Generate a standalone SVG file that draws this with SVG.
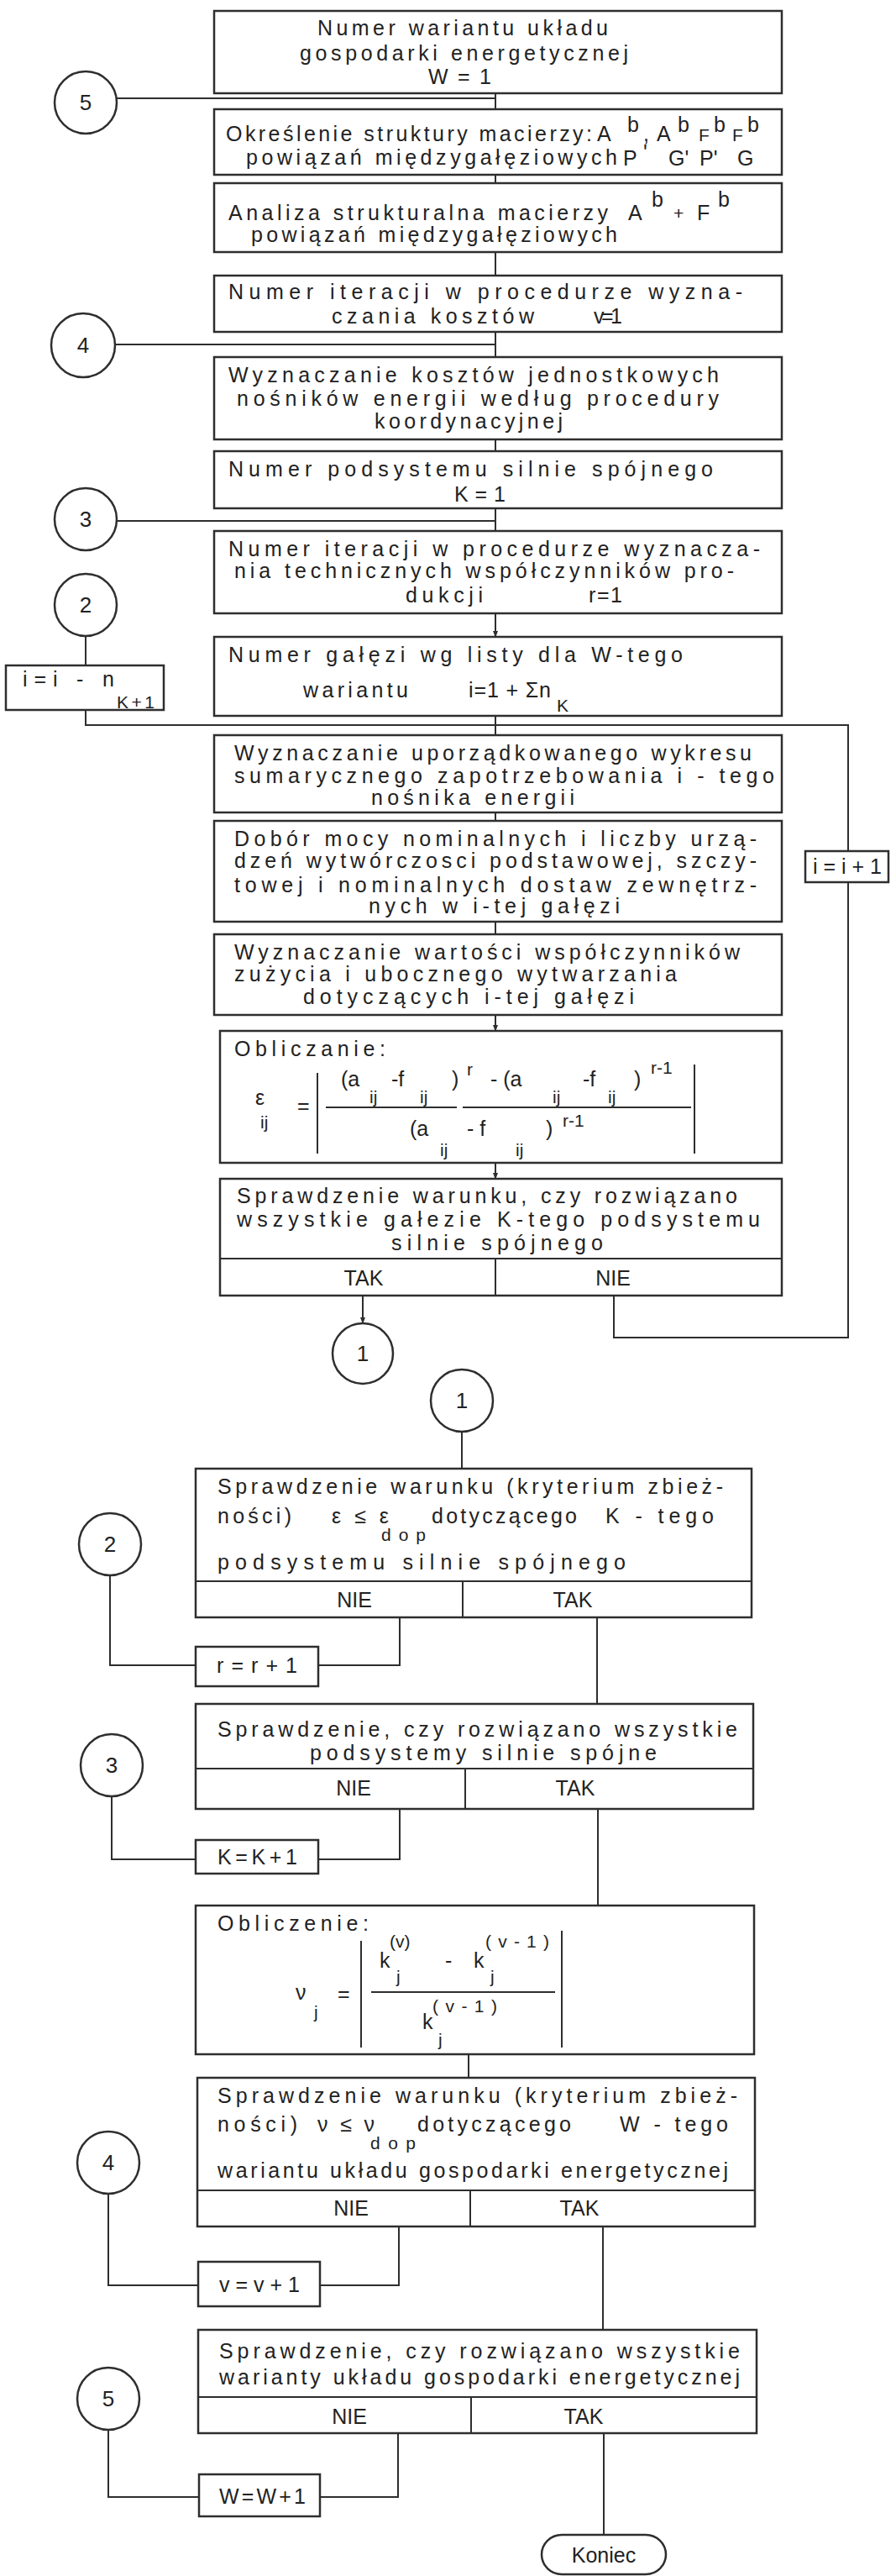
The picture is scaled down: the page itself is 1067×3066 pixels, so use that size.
<svg xmlns="http://www.w3.org/2000/svg" width="1067" height="3066" viewBox="0 0 1067 3066">
<style>
.t{font-family:"Liberation Sans",Arial,sans-serif;font-size:25px;fill:#222}
.s{font-family:"Liberation Sans",Arial,sans-serif;font-size:21px;fill:#222}
.n{font-family:"Liberation Sans",Arial,sans-serif;font-size:26px;fill:#222;text-anchor:middle}
.m{text-anchor:middle}
.b{fill:#fff;stroke:#2e2e2e;stroke-width:2.5}
.c{fill:none;stroke:#2e2e2e;stroke-width:2}
</style>
<defs>
<marker id="ah" markerWidth="8" markerHeight="8" refX="7" refY="4" orient="auto" markerUnits="userSpaceOnUse"><path d="M0,1 L8,4 L0,7 Z" fill="#2e2e2e"/></marker>
</defs>
<rect width="1067" height="3066" fill="#fff"/>

<g id="connectors" class="c">
<line x1="590" y1="111" x2="590" y2="130"/>
<line x1="139" y1="117" x2="590" y2="117"/>
<line x1="590" y1="208" x2="590" y2="218"/>
<line x1="590" y1="300" x2="590" y2="328"/>
<line x1="590" y1="395" x2="590" y2="425"/>
<line x1="137" y1="410" x2="590" y2="410"/>
<line x1="590" y1="523" x2="590" y2="537"/>
<line x1="590" y1="605" x2="590" y2="632"/>
<line x1="139" y1="620" x2="590" y2="620"/>
<line x1="590" y1="730" x2="590" y2="758" marker-end="url(#ah)"/>
<line x1="102" y1="757" x2="102" y2="792"/>
<polyline points="102,845 102,863 1010,863 1010,1013"/>
<line x1="590" y1="852" x2="590" y2="875"/>
<line x1="590" y1="967" x2="590" y2="977"/>
<line x1="590" y1="1097" x2="590" y2="1112"/>
<line x1="590" y1="1208" x2="590" y2="1227" marker-end="url(#ah)"/>
<line x1="590" y1="1384" x2="590" y2="1403" marker-end="url(#ah)"/>
<polyline points="731,1542 731,1592 1010,1592 1010,1050"/>
<line x1="432" y1="1542" x2="432" y2="1575" marker-end="url(#ah)"/>
<line x1="550" y1="1704" x2="550" y2="1748"/>
<polyline points="131,1875 131,1982 233,1982"/>
<polyline points="476,1925 476,1982 379,1982"/>
<line x1="711" y1="1925" x2="711" y2="2028"/>
<polyline points="133,2138 133,2213 233,2213"/>
<polyline points="476,2153 476,2213 379,2213"/>
<line x1="712" y1="2153" x2="712" y2="2268"/>
<line x1="558" y1="2445" x2="558" y2="2473"/>
<polyline points="129,2611 129,2720 236,2720"/>
<polyline points="475,2650 475,2720 381,2720"/>
<line x1="718" y1="2650" x2="718" y2="2773"/>
<polyline points="129,2892 129,2972 237,2972"/>
<polyline points="474,2896 474,2972 381,2972"/>
<line x1="719" y1="2896" x2="719" y2="3017"/>
</g>

<g id="n-c5a"><circle class="b" cx="102" cy="122" r="37"/><text class="n" x="102" y="131">5</text></g>
<g id="n-c4a"><circle class="b" cx="99" cy="411" r="38"/><text class="n" x="99" y="420">4</text></g>
<g id="n-c3a"><circle class="b" cx="102" cy="618" r="37"/><text class="n" x="102" y="627">3</text></g>
<g id="n-c2a"><circle class="b" cx="102" cy="720" r="37"/><text class="n" x="102" y="729">2</text></g>

<g id="n1"><rect class="b" x="255" y="13" width="676" height="98"/>
<text class="t" x="378" y="42" textLength="346">Numer wariantu układu</text>
<text class="t" x="357" y="72" textLength="391">gospodarki energetycznej</text>
<text class="t" x="510" y="100" textLength="75">W = 1</text></g>

<g id="n2"><rect class="b" x="255" y="130" width="676" height="78"/>
<text class="t" x="269" y="168" textLength="436">Określenie struktury macierzy:</text>
<text class="t" x="711" y="168">A</text><text class="t" x="747" y="157">b</text>
<text class="t" x="766" y="168">,</text>
<text class="t" x="782" y="168">A</text><text class="t" x="807" y="157">b</text>
<text class="s" x="832" y="168">F</text><text class="t" x="850" y="157">b</text>
<text class="s" x="872" y="168">F</text><text class="t" x="890" y="157">b</text>
<text class="t" x="742" y="197">P</text><text class="t" x="766" y="190">'</text>
<text class="t" x="796" y="197">G'</text><text class="t" x="833" y="197">P'</text><text class="t" x="878" y="197">G</text>
<text class="t" x="293" y="196" textLength="442">powiązań międzygałęziowych</text></g>

<g id="n3"><rect class="b" x="255" y="218" width="676" height="82"/>
<text class="t" x="272" y="262" textLength="452">Analiza strukturalna macierzy</text>
<text class="t" x="748" y="262">A</text><text class="t" x="776" y="246">b</text>
<text class="s" x="802" y="261">+</text>
<text class="t" x="830" y="262">F</text><text class="t" x="855" y="246">b</text>
<text class="t" x="299" y="288" textLength="436">powiązań międzygałęziowych</text></g>

<g id="n4"><rect class="b" x="255" y="328" width="676" height="67"/>
<text class="t" x="272" y="356" textLength="612">Numer iteracji w procedurze wyzna-</text>
<text class="t" x="395" y="385" textLength="241">czania kosztów</text>
<text class="t" x="707" y="385" textLength="34">v=1</text></g>

<g id="n5"><rect class="b" x="255" y="425" width="676" height="98"/>
<text class="t" x="272" y="455" textLength="584">Wyznaczanie kosztów jednostkowych</text>
<text class="t" x="282" y="483" textLength="574">nośników energii według procedury</text>
<text class="t" x="446" y="510" textLength="224">koordynacyjnej</text></g>

<g id="n6"><rect class="b" x="255" y="537" width="676" height="68"/>
<text class="t" x="272" y="567" textLength="577">Numer podsystemu silnie spójnego</text>
<text class="t" x="541" y="597" textLength="61">K = 1</text></g>

<g id="n7"><rect class="b" x="255" y="632" width="676" height="98"/>
<text class="t" x="272" y="662" textLength="633">Numer iteracji w procedurze wyznacza-</text>
<text class="t" x="279" y="688" textLength="595">nia technicznych współczynników pro-</text>
<text class="t" x="483" y="717" textLength="92">dukcji</text>
<text class="t" x="701" y="717" textLength="40">r=1</text></g>

<g id="n8"><rect class="b" x="255" y="758" width="676" height="94"/>
<text class="t" x="272" y="788" textLength="541">Numer gałęzi wg listy dla W-tego</text>
<text class="t" x="361" y="830" textLength="125">wariantu</text>
<text class="t" x="558" y="830" textLength="98">i=1 + Σn</text>
<text class="s" x="663" y="847">K</text></g>

<g id="n-iminus"><rect class="b" x="7" y="792" width="188" height="53"/>
<text class="t" x="27" y="817" textLength="109">i=i - n</text>
<text class="s" x="139" y="843" textLength="45">K+1</text></g>

<g id="n9"><rect class="b" x="255" y="875" width="676" height="92"/>
<text class="t" x="279" y="905" textLength="616">Wyznaczanie uporządkowanego wykresu</text>
<text class="t" x="279" y="932" textLength="643">sumarycznego zapotrzebowania i - tego</text>
<text class="t" x="442" y="958" textLength="242">nośnika energii</text></g>

<g id="n10"><rect class="b" x="255" y="977" width="676" height="120"/>
<text class="t" x="279" y="1007" textLength="622">Dobór mocy nominalnych i liczby urzą-</text>
<text class="t" x="279" y="1033" textLength="622">dzeń wytwórczosci podstawowej, szczy-</text>
<text class="t" x="279" y="1062" textLength="622">towej i nominalnych dostaw zewnętrz-</text>
<text class="t" x="439" y="1087" textLength="299">nych w i-tej gałęzi</text></g>

<g id="n-iplus"><rect class="b" x="959" y="1013" width="99" height="37"/>
<text class="t" x="968" y="1040" textLength="82">i=i+1</text></g>

<g id="n11"><rect class="b" x="255" y="1112" width="676" height="96"/>
<text class="t" x="279" y="1142" textLength="602">Wyznaczanie wartości współczynników</text>
<text class="t" x="279" y="1168" textLength="527">zużycia i ubocznego wytwarzania</text>
<text class="t" x="361" y="1195" textLength="394">dotyczących i-tej gałęzi</text></g>

<g id="n12"><rect class="b" x="262" y="1227" width="669" height="157"/>
<text class="t" x="279" y="1257" textLength="180">Obliczanie:</text>
<text class="t" x="304" y="1315">ε</text><text class="s" x="310" y="1343">ij</text>
<text class="t" x="354" y="1325">=</text>
<line class="c" x1="378" y1="1277" x2="378" y2="1373"/>
<line class="c" x1="827" y1="1267" x2="827" y2="1373"/>
<text class="t" x="406" y="1293">(a</text><text class="s" x="440" y="1313">ij</text>
<text class="t" x="466" y="1293">-f</text><text class="s" x="500" y="1313">ij</text>
<text class="t" x="538" y="1293">)</text><text class="s" x="556" y="1280">r</text>
<text class="t" x="584" y="1293">- (a</text><text class="s" x="658" y="1313">ij</text>
<text class="t" x="694" y="1293">-f</text><text class="s" x="724" y="1313">ij</text>
<text class="t" x="755" y="1293">)</text><text class="s" x="775" y="1278">r-1</text>
<line class="c" x1="388" y1="1318" x2="544" y2="1318"/>
<line class="c" x1="551" y1="1318" x2="823" y2="1318"/>
<text class="t" x="488" y="1352">(a</text><text class="s" x="524" y="1376">ij</text>
<text class="t" x="556" y="1352">- f</text><text class="s" x="614" y="1376">ij</text>
<text class="t" x="650" y="1352">)</text><text class="s" x="670" y="1341">r-1</text></g>

<g id="n13"><rect class="b" x="262" y="1403" width="669" height="139"/>
<line class="c" x1="262" y1="1498" x2="931" y2="1498"/>
<line class="c" x1="590" y1="1498" x2="590" y2="1542"/>
<text class="t" x="282" y="1432" textLength="596">Sprawdzenie warunku, czy rozwiązano</text>
<text class="t" x="282" y="1460" textLength="623">wszystkie gałezie K-tego podsystemu</text>
<text class="t" x="466" y="1488" textLength="252">silnie spójnego</text>
<text class="t m" x="433" y="1530">TAK</text>
<text class="t m" x="730" y="1530">NIE</text></g>

<g id="n-c1a"><circle class="b" cx="432" cy="1611" r="36"/><text class="n" x="432" y="1620">1</text></g>
<g id="n-c1b"><circle class="b" cx="550" cy="1667" r="37"/><text class="n" x="550" y="1676">1</text></g>

<g id="n14"><rect class="b" x="233" y="1748" width="662" height="177"/>
<line class="c" x1="233" y1="1882" x2="895" y2="1882"/>
<line class="c" x1="551" y1="1882" x2="551" y2="1925"/>
<text class="t" x="259" y="1778" textLength="602">Sprawdzenie warunku (kryterium zbież-</text>
<text class="t" x="259" y="1813" textLength="88">ności)</text>
<text class="t" x="395" y="1813" textLength="68">ε≤ε</text>
<text class="s" x="454" y="1834" textLength="53">dop</text>
<text class="t" x="514" y="1813" textLength="173">dotyczącego</text>
<text class="t" x="721" y="1813" textLength="129">K - tego</text>
<text class="t" x="259" y="1868" textLength="486">podsystemu silnie spójnego</text>
<text class="t m" x="422" y="1913">NIE</text>
<text class="t m" x="682" y="1913">TAK</text></g>

<g id="n-c2b"><circle class="b" cx="131" cy="1838" r="37"/><text class="n" x="131" y="1847">2</text></g>
<g id="n-rplus"><rect class="b" x="233" y="1960" width="146" height="47"/>
<text class="t" x="258" y="1991" textLength="96">r=r+1</text></g>

<g id="n15"><rect class="b" x="233" y="2028" width="664" height="125"/>
<line class="c" x1="233" y1="2105" x2="897" y2="2105"/>
<line class="c" x1="554" y1="2105" x2="554" y2="2153"/>
<text class="t" x="259" y="2067" textLength="619">Sprawdzenie, czy rozwiązano wszystkie</text>
<text class="t" x="369" y="2095" textLength="413">podsystemy silnie spójne</text>
<text class="t m" x="421" y="2137">NIE</text>
<text class="t m" x="685" y="2137">TAK</text></g>

<g id="n-c3b"><circle class="b" cx="133" cy="2101" r="37"/><text class="n" x="133" y="2110">3</text></g>
<g id="n-kplus"><rect class="b" x="233" y="2190" width="146" height="40"/>
<text class="t" x="259" y="2219" textLength="95">K=K+1</text></g>

<g id="n16"><rect class="b" x="233" y="2268" width="665" height="177"/>
<text class="t" x="259" y="2298" textLength="180">Obliczenie:</text>
<text class="t" x="352" y="2380">ν</text><text class="s" x="374" y="2402">j</text>
<text class="t" x="402" y="2382">=</text>
<line class="c" x1="430" y1="2310" x2="430" y2="2437"/>
<line class="c" x1="669" y1="2298" x2="669" y2="2437"/>
<text class="t" x="452" y="2342">k</text><text class="s" x="464" y="2318">(v)</text><text class="s" x="472" y="2360">j</text>
<text class="t" x="530" y="2342">-</text>
<text class="t" x="564" y="2342">k</text><text class="s" x="578" y="2318" textLength="76">(v-1)</text><text class="s" x="584" y="2360">j</text>
<line class="c" x1="442" y1="2371" x2="661" y2="2371"/>
<text class="t" x="503" y="2415">k</text><text class="s" x="515" y="2395" textLength="77">(v-1)</text><text class="s" x="522" y="2435">j</text></g>

<g id="n17"><rect class="b" x="235" y="2473" width="664" height="177"/>
<line class="c" x1="235" y1="2607" x2="899" y2="2607"/>
<line class="c" x1="560" y1="2607" x2="560" y2="2650"/>
<text class="t" x="259" y="2503" textLength="619">Sprawdzenie warunku (kryterium zbież-</text>
<text class="t" x="259" y="2537" textLength="95">ności)</text>
<text class="t" x="378" y="2537" textLength="68">ν≤ν</text>
<text class="s" x="441" y="2558" textLength="54">dop</text>
<text class="t" x="497" y="2537" textLength="183">dotyczącego</text>
<text class="t" x="738" y="2537" textLength="129">W - tego</text>
<text class="t" x="259" y="2592" textLength="608">wariantu układu gospodarki energetycznej</text>
<text class="t m" x="418" y="2637">NIE</text>
<text class="t m" x="690" y="2637">TAK</text></g>

<g id="n-c4b"><circle class="b" cx="129" cy="2574" r="37"/><text class="n" x="129" y="2583">4</text></g>
<g id="n-vplus"><rect class="b" x="236" y="2692" width="145" height="53"/>
<text class="t" x="261" y="2728" textLength="96">v=v+1</text></g>

<g id="n18"><rect class="b" x="236" y="2773" width="665" height="123"/>
<line class="c" x1="236" y1="2853" x2="901" y2="2853"/>
<line class="c" x1="561" y1="2853" x2="561" y2="2896"/>
<text class="t" x="261" y="2807" textLength="620">Sprawdzenie, czy rozwiązano wszystkie</text>
<text class="t" x="261" y="2838" textLength="620">warianty układu gospodarki energetycznej</text>
<text class="t m" x="416" y="2885">NIE</text>
<text class="t m" x="695" y="2885">TAK</text></g>

<g id="n-c5b"><circle class="b" cx="129" cy="2855" r="37"/><text class="n" x="129" y="2864">5</text></g>
<g id="n-wplus"><rect class="b" x="237" y="2945" width="144" height="50"/>
<text class="t" x="261" y="2980" textLength="103">W=W+1</text></g>

<g id="n-koniec"><rect class="b" x="645" y="3017" width="148" height="47" rx="24"/>
<text class="t m" x="719" y="3050">Koniec</text></g>
</svg>
